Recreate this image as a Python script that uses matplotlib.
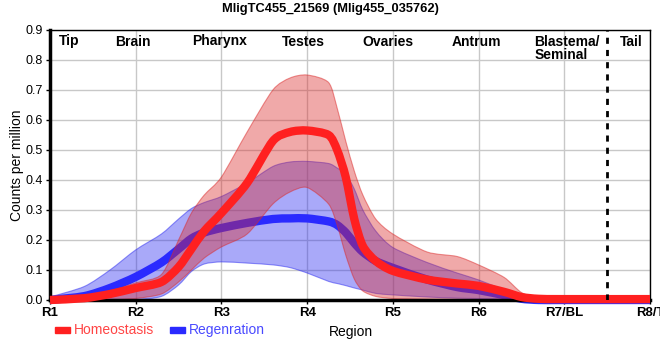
import numpy as np
import matplotlib
matplotlib.use("Agg")
import matplotlib.pyplot as plt
from matplotlib.path import Path
from matplotlib.patches import PathPatch

plt.rcParams['font.family'] = ['Liberation Sans', 'DejaVu Sans']

# positions along the body (R1 = 0 ... R8 = 7)
pos = [0, 0.4, 0.7, 1.0, 1.3, 1.5, 1.65, 1.8, 2.0, 2.3, 2.6, 2.8, 3.0, 3.25, 3.35,
       3.45, 3.55, 3.65, 3.8, 4.0, 4.4, 4.75, 5.0, 5.3, 5.5, 5.7, 6.0, 7.0]

homeo_mean = [0.0, 0.006, 0.02, 0.04, 0.06, 0.11, 0.17, 0.23, 0.29, 0.39, 0.53, 0.56, 0.565, 0.55, 0.5,
              0.41, 0.27, 0.18, 0.13, 0.097, 0.068, 0.055, 0.047, 0.027, 0.01, 0.004, 0.003, 0.003]
homeo_hi = [0.005, 0.01, 0.03, 0.057, 0.085, 0.2, 0.29, 0.35, 0.41, 0.56, 0.7, 0.74, 0.75, 0.725, 0.64,
            0.53, 0.43, 0.35, 0.27, 0.22, 0.16, 0.145, 0.117, 0.075, 0.025, 0.008, 0.005, 0.005]
homeo_lo = [-0.01, -0.005, 0.0, 0.005, 0.02, 0.06, 0.1, 0.14, 0.177, 0.22, 0.32, 0.36, 0.375, 0.32, 0.25,
            0.15, 0.07, 0.03, 0.012, 0.005, 0.002, 0.0, 0.0, 0.0, 0.0, 0.0, 0.0, 0.0]

regen_mean = [0.0, 0.013, 0.04, 0.077, 0.125, 0.17, 0.205, 0.225, 0.24, 0.257, 0.27, 0.272, 0.272, 0.262, 0.25,
              0.225, 0.19, 0.16, 0.13, 0.107, 0.068, 0.043, 0.033, 0.016, 0.004, 0.0, 0.0, 0.0]
regen_hi = [0.01, 0.045, 0.1, 0.167, 0.22, 0.27, 0.305, 0.325, 0.345, 0.39, 0.445, 0.46, 0.462, 0.455, 0.44,
            0.42, 0.37, 0.3, 0.23, 0.175, 0.125, 0.09, 0.067, 0.033, 0.01, 0.002, 0.0, 0.0]
regen_lo = [-0.005, -0.005, -0.003, 0.0, 0.012, 0.05, 0.095, 0.12, 0.127, 0.123, 0.117, 0.108, 0.09, 0.062, 0.055,
            0.048, 0.04, 0.033, 0.022, 0.017, 0.01, 0.006, 0.005, 0.002, 0.0, 0.0, 0.0, 0.0]

tick_labels = ["R1", "R2", "R3", "R4", "R5", "R6", "R7/BL", "R8/T"]
tissues = ["Tip", "Brain", "Pharynx", "Testes", "Ovaries", "Antrum", "Tail"]
tissue_pos = [0.22, 0.97, 1.98, 2.96, 3.94, 4.98, 6.78]


def spline_verts(xs, ys, k=0.8):
    # catmull-rom style curve through the points, as cubic bezier segments
    p = np.column_stack([xs, ys]).astype(float)
    n = len(p)
    verts = [p[0]]
    for i in range(n - 1):
        a = p[i - 1] if i > 0 else p[i]
        d = p[i + 2] if i + 2 < n else p[i + 1]
        c1 = p[i] + (p[i + 1] - a) * k / 6
        c2 = p[i + 1] - (d - p[i]) * k / 6
        verts += [c1, c2, p[i + 1]]
    return verts


def smooth_line(ax, xs, ys, **kw):
    v = spline_verts(xs, ys)
    codes = [Path.MOVETO] + [Path.CURVE4] * (len(v) - 1)
    ax.add_patch(PathPatch(Path(v, codes), fill=False, **kw))


def smooth_band(ax, xs, lo, hi, **kw):
    up = spline_verts(xs, hi)
    dn = spline_verts(xs[::-1], lo[::-1])
    v = up + [dn[0]] + dn[1:] + [up[0]]
    codes = ([Path.MOVETO] + [Path.CURVE4] * (len(up) - 1) + [Path.LINETO]
             + [Path.CURVE4] * (len(dn) - 1) + [Path.CLOSEPOLY])
    ax.add_patch(PathPatch(Path(v, codes), **kw))


fig = plt.figure(figsize=(6.6, 3.6), dpi=100)
ax = fig.add_axes([50/660, 1-300/360, 600/660, 270/360])

smooth_band(ax, pos, regen_lo, regen_hi, facecolor=(0.16, 0.16, 0.94, 0.4),
            edgecolor=(0.16, 0.16, 0.94, 0.5), lw=0.8, zorder=2)
smooth_line(ax, pos, regen_mean, edgecolor="#2a2aff", lw=6, capstyle='butt',
            clip_on=False, zorder=3)
smooth_band(ax, pos, homeo_lo, homeo_hi, facecolor=(0.86, 0.16, 0.16, 0.4),
            edgecolor=(0.86, 0.16, 0.16, 0.5), lw=0.8, zorder=4)
smooth_line(ax, pos, homeo_mean, edgecolor="#ff2020", lw=6, capstyle='butt',
            clip_on=False, zorder=5)

ax.axvline(6.5, color="black", ls=(0, (2.2, 2.2)), lw=2, zorder=6)

ax.set_xlim(0, 7)
ax.set_ylim(0, 0.9)
ax.set_xticks(range(8))
ax.set_xticklabels(tick_labels, fontweight='bold', fontsize=9.5)
ax.set_yticks(np.arange(0, 0.91, 0.1))
ax.set_yticklabels(["%.1f" % v for v in np.arange(0, 0.91, 0.1)], fontsize=9)
ax.tick_params(length=3, width=1, pad=2)
ax.grid(color="#c8c8c8", lw=1)
ax.set_axisbelow(True)
for s in ["top", "right"]:
    ax.spines[s].set_linewidth(1)
for s in ["left", "bottom"]:
    ax.spines[s].set_linewidth(2.5)
    ax.spines[s].set_zorder(4.5)

for name, x in zip(tissues, tissue_pos):
    ax.text(x, 0.885, name, ha='center', va='top', fontsize=10, fontweight='bold')
ax.text(5.65, 0.885, "Blastema/\nSeminal", ha='left', va='top', fontsize=10, fontweight='bold',
        linespacing=0.95)

fig.text(0.5, 0.992, "MligTC455_21569 (Mlig455_035762)", ha='center', va='top',
         fontsize=9.3, fontweight='bold')
fig.text(17/660, 1-165/360, "Counts per million", rotation=90, ha='center', va='center', fontsize=10)
fig.text(351/660, 1-332/360, "Region", ha='center', va='center', fontsize=10)

# legend
fig.patches.append(plt.Rectangle((55/660, 1-333/360), 15/660, 6/360, color="#ff2020",
                                 transform=fig.transFigure, figure=fig))
fig.text(74/660, 1-330/360, "Homeostasis", color="#ff4545", fontsize=10, va='center')
fig.patches.append(plt.Rectangle((170/660, 1-333/360), 15/660, 6/360, color="#2a2aff",
                                 transform=fig.transFigure, figure=fig))
fig.text(189/660, 1-330/360, "Regenration", color="#4a4aff", fontsize=10, va='center')

fig.savefig("out.png", dpi=100)
